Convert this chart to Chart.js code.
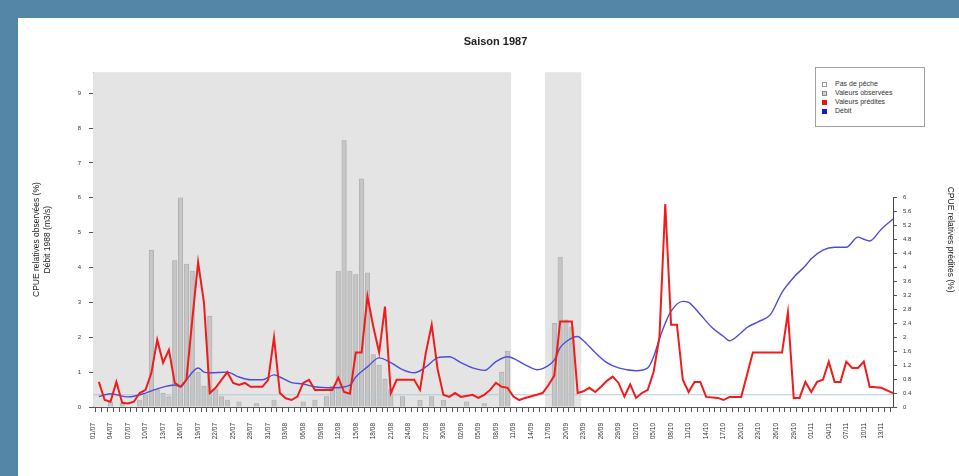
<!DOCTYPE html>
<html>
<head>
<meta charset="utf-8">
<script src="https://cdn.jsdelivr.net/npm/chart.js@4.4.1/dist/chart.umd.min.js"></script>
<style>
  html, body { margin: 0; padding: 0; }
  body { width: 959px; height: 476px; background: #5386a7; overflow: hidden; position: relative;
         font-family: "Liberation Sans", Arial, sans-serif; }
  #panel { position: absolute; left: 18px; top: 18px; width: 941px; height: 458px; background: #fff; }
  #legend { position: absolute; left: 815px; top: 67px; width: 110px; height: 60px; box-sizing: border-box;
            border: 1px solid #a0a0a0; background: #fff; padding: 11px 0 0 6px; font-size: 7px; color: #333; }
  #legend div { height: 9px; line-height: 9px; white-space: nowrap; }
  #legend span { display: inline-block; width: 5px; height: 5px; margin-right: 8px; vertical-align: -0.5px; box-sizing: border-box; }
</style>
</head>
<body>
<div id="panel"><canvas id="saison" width="941" height="458"></canvas></div>
<div id="legend"></div>
<script>
// jours de la saison (0 = 01/07)
const dateLabels = ['01/07','04/07','07/07','10/07','13/07','16/07','19/07','22/07','25/07','28/07','31/07',
  '03/08','06/08','09/08','12/08','15/08','18/08','21/08','24/08','27/08','30/08',
  '02/09','05/09','08/09','11/09','14/09','17/09','20/09','23/09','26/09','29/09',
  '02/10','05/10','08/10','11/10','14/10','17/10','20/10','23/10','26/10','29/10',
  '01/11','04/11','07/11','10/11','13/11'];
const lastDay = 137;
const leftTicks = [0, 1, 2, 3, 4, 5, 6, 7, 8, 9];
const rightTicks = [0, 0.4, 0.8, 1.2, 1.6, 2, 2.4, 2.8, 3.2, 3.6, 4, 4.4, 4.8, 5.2, 5.6, 6];
const yTop = 9.6;

// periodes grisees
const noFishing = [[0, 71], [78, 83]];

// CPUE observees
const obsDays = [3, 5, 8, 9, 10, 11, 12, 13, 14, 15, 16, 17, 18, 19, 20, 21, 22, 23, 25, 28, 31, 36, 38,
  40, 41, 42, 43, 44, 45, 46, 47, 48, 49, 50, 51, 53, 56, 58, 60, 64, 67, 70, 71, 79, 80, 81, 82];
const obsVals = [0.15, 0.1, 0.2, 0.35, 4.5, 0.5, 0.4, 0.3, 4.2, 6.0, 4.1, 3.9, 1.0, 0.6, 2.6, 0.5, 0.3, 0.2, 0.15, 0.1, 0.2, 0.15, 0.2,
  0.3, 0.6, 3.9, 7.64, 3.9, 3.8, 6.54, 3.85, 1.5, 1.2, 0.8, 0.5, 0.3, 0.2, 0.3, 0.2, 0.15, 0.1, 1.0, 1.6, 2.4, 4.3, 2.5, 2.3];

// CPUE predites
const predDays = [1, 2, 3, 4, 5, 6, 7, 8, 9, 10, 11, 12, 13, 14, 15, 16, 17, 18, 19, 20, 21, 22, 23, 24, 25, 26, 27, 29, 30,
  31, 32, 33, 34, 35, 36, 37, 38, 41, 42, 43, 44, 45, 46, 47, 48, 49, 50, 51, 52, 55, 56, 57, 58, 59, 60,
  61, 62, 63, 65, 66, 67, 68, 69, 70, 71, 72, 73, 74, 76, 77, 78, 79, 80, 82, 83, 84, 85, 86, 87, 88, 89, 90,
  91, 92, 93, 94, 95, 96, 97, 98, 99, 100, 101, 102, 103, 104, 105, 107, 108, 109, 111, 113, 118, 119, 120,
  121, 122, 123, 124, 125, 126, 127, 128, 129, 130, 131, 132, 133, 135, 137];
const predVals = [0.72, 0.2, 0.15, 0.72, 0.12, 0.1, 0.15, 0.4, 0.49, 0.98, 1.93, 1.27, 1.64, 0.69, 0.58, 0.78, 2.5, 4.15, 3.0, 0.4, 0.55, 0.78, 1.0, 0.69, 0.63, 0.69, 0.58, 0.58, 0.78,
  2.0, 0.4, 0.25, 0.2, 0.3, 0.69, 0.78, 0.49, 0.49, 0.84, 0.43, 0.38, 1.56, 1.56, 3.17, 2.3, 1.56, 2.88, 0.4, 0.78, 0.78, 0.49, 1.56, 2.36, 1.1, 0.35,
  0.29, 0.4, 0.29, 0.35, 0.26, 0.35, 0.49, 0.69, 0.58, 0.55, 0.3, 0.2, 0.26, 0.35, 0.4, 0.63, 0.9, 2.45, 2.45, 0.4, 0.45, 0.55, 0.43, 0.58, 0.75, 0.87, 0.69,
  0.3, 0.65, 0.26, 0.4, 0.49, 1.0, 2.0, 5.82, 2.36, 2.36, 0.78, 0.43, 0.72, 0.72, 0.29, 0.26, 0.2, 0.29, 0.29, 1.56, 1.56, 2.71, 0.26,
  0.26, 0.72, 0.43, 0.72, 0.78, 1.3, 0.72, 0.72, 1.3, 1.12, 1.12, 1.3, 0.58, 0.55, 0.4];

// debit
const flowDays = [1, 3, 6, 9, 11, 14, 15, 16, 18, 19, 20, 23, 25, 27, 29, 31, 32, 34, 36, 38, 41, 44, 45, 47, 49, 51, 53, 55,
  57, 59, 61, 63, 65, 67, 69, 71, 74, 76, 77, 79, 80, 81, 83, 84, 86, 88, 90, 93, 95, 96, 97, 98, 99, 101, 102, 104,
  106, 108, 109, 111, 112, 114, 116, 118, 120, 122, 123, 125, 127, 129, 131, 132, 133, 135, 137];
const flowVals = [0.3, 0.38, 0.29, 0.4, 0.52, 0.63, 0.58, 0.78, 1.12, 1.0, 0.98, 1.0, 0.86, 0.78, 0.78, 0.92, 0.86, 0.7, 0.66, 0.58, 0.55, 0.63, 0.86, 1.15, 1.41, 1.27, 1.07, 0.98,
  1.15, 1.41, 1.44, 1.27, 1.12, 1.05, 1.3, 1.44, 1.21, 1.07, 1.1, 1.35, 1.7, 1.87, 2.02, 1.9, 1.56, 1.27, 1.12, 1.04, 1.12, 1.44, 1.95, 2.4, 2.75, 3.03, 3.0, 2.65,
  2.28, 2.02, 1.9, 2.13, 2.28, 2.45, 2.65, 3.29, 3.72, 4.05, 4.25, 4.5, 4.58, 4.58, 4.87, 4.81, 4.76, 5.1, 5.39];

const threshold = 0.35;

const pairs = (xs, ys) => xs.map((x, i) => ({ x: x, y: ys[i] }));
const shade = [];
noFishing.forEach(([a, b]) => { for (let d = a; d <= b; d++) shade.push({ x: d, y: yTop }); });

const legendItems = [
  { label: 'Pas de pêche', fill: '#ffffff', line: '#999999' },
  { label: 'Valeurs observées', fill: '#cfcfcf', line: '#888888' },
  { label: 'Valeurs prédites', fill: '#ee1111', line: '#ee1111' },
  { label: 'Débit', fill: '#1a1acc', line: '#1a1acc' }
];
document.getElementById('legend').innerHTML = legendItems.map(it =>
  '<div><span style="background:' + it.fill + ';border:1px solid ' + it.line + '"></span>' + it.label + '</div>').join('');

const rightAxisLine = {
  id: 'rightAxisLine',
  afterDraw(chart) {
    const s = chart.scales.y2;
    const ctx = chart.ctx;
    ctx.save();
    ctx.strokeStyle = '#444';
    ctx.lineWidth = 1;
    ctx.beginPath();
    ctx.moveTo(Math.round(s.left) + 0.5, s.getPixelForValue(0));
    ctx.lineTo(Math.round(s.left) + 0.5, s.getPixelForValue(rightTicks[rightTicks.length - 1]));
    ctx.stroke();
    ctx.restore();
  }
};

const tickFont = { family: 'Liberation Sans', size: 6 };
const titleFont = { family: 'Liberation Sans', size: 8.5 };

new Chart(document.getElementById('saison'), {
  data: {
    datasets: [
      { type: 'bar', label: 'Pas de pêche', data: shade, backgroundColor: '#e4e4e4', borderWidth: 0,
        barThickness: 6.4, grouped: false, order: 5, yAxisID: 'y' },
      { type: 'bar', label: 'Valeurs observées', data: pairs(obsDays, obsVals), backgroundColor: 'rgba(190,190,190,0.8)',
        borderColor: '#adadad', borderWidth: 0.5, barThickness: 4.5, grouped: false, order: 4, yAxisID: 'y' },
      { type: 'line', label: 'seuil', data: [{ x: 0, y: threshold }, { x: lastDay, y: threshold }],
        borderColor: '#b4c8d8', borderWidth: 1, pointRadius: 0, order: 3, yAxisID: 'y' },
      { type: 'line', label: 'Débit', data: pairs(flowDays, flowVals), borderColor: '#4d4dd6', borderWidth: 1.4,
        pointRadius: 0, cubicInterpolationMode: 'monotone', order: 2, yAxisID: 'y' },
      { type: 'line', label: 'Valeurs prédites', data: pairs(predDays, predVals), borderColor: '#f01c1c', borderWidth: 2,
        pointRadius: 0, tension: 0, order: 1, yAxisID: 'y2' }
    ]
  },
  options: {
    responsive: false,
    animation: false,
    layout: { padding: { left: 14, right: 0, top: 0, bottom: 0 } },
    plugins: {
      legend: { display: false },
      tooltip: { enabled: false },
      title: {
        display: true, text: 'Saison 1987', color: '#222',
        font: { family: 'Liberation Sans', size: 11, weight: 'bold' },
        padding: { top: 17, bottom: 24 }
      }
    },
    scales: {
      x: {
        type: 'linear', min: 0, max: lastDay, offset: false,
        grid: { drawOnChartArea: false, tickLength: 5, color: '#555' },
        border: { display: true, color: '#555' },
        ticks: {
          autoSkip: false, minRotation: 90, maxRotation: 90, padding: 11, color: '#333',
          font: { family: 'Liberation Sans', size: 6.5 },
          callback: v => (v % 3 === 0 ? dateLabels[v / 3] : '')
        },
        afterBuildTicks: s => { s.ticks = []; for (let d = 0; d <= lastDay; d++) s.ticks.push({ value: d }); },
        afterFit: s => { s.height = 69; }
      },
      y: {
        position: 'left', min: 0, max: yTop,
        grid: { drawOnChartArea: false, tickLength: 4, color: '#555' },
        border: { display: true, color: '#555' },
        ticks: { color: '#333', font: tickFont, padding: 8 },
        afterBuildTicks: s => { s.ticks = leftTicks.map(v => ({ value: v })); },
        title: { display: true, text: ['CPUE relatives observées (%)', 'Débit 1988 (m3/s)'], color: '#222',
                 font: titleFont, padding: 0 },
        afterFit: s => { s.width = 61; }
      },
      y2: {
        position: 'right', min: 0, max: yTop,
        grid: { drawOnChartArea: false, tickLength: 4, color: '#555' },
        border: { display: false },
        ticks: { color: '#333', font: tickFont, padding: 6, callback: v => String(Math.round(v * 10) / 10) },
        afterBuildTicks: s => { s.ticks = rightTicks.map(v => ({ value: v })); },
        title: { display: true, text: 'CPUE relatives prédites (%)', color: '#222', font: titleFont, padding: 4 },
        afterFit: s => { s.width = 66; }
      }
    }
  },
  plugins: [rightAxisLine]
});
</script>
</body>
</html>
